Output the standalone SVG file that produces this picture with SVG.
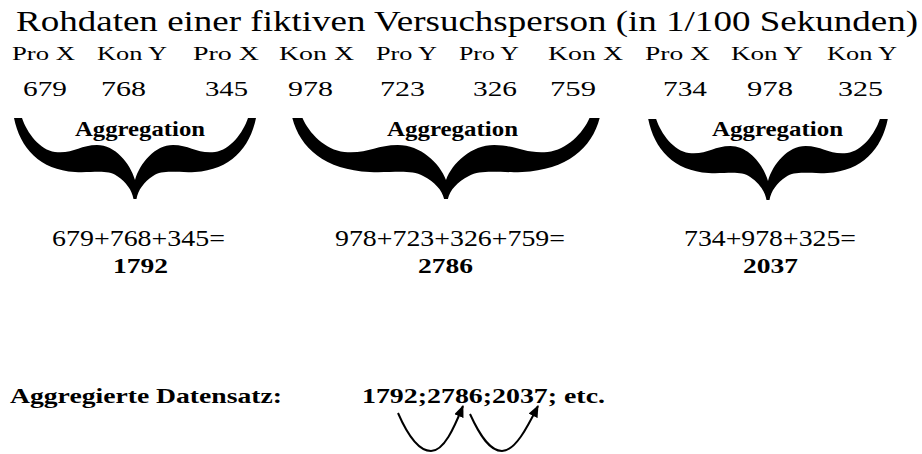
<svg xmlns="http://www.w3.org/2000/svg" xmlns:xlink="http://www.w3.org/1999/xlink" width="922" height="454" viewBox="0 0 922 454">
  <style>
    text { font-family: "Liberation Serif", "Times New Roman", Times, serif; fill: #000; }
    .title { font-size: 28.5px; }
    .lbl { font-size: 19px; }
    .num { font-size: 22px; }
    .agg { font-size: 21px; font-weight: bold; }
    .eq { font-size: 23.5px; }
    .sum { font-size: 21.5px; font-weight: bold; }
    .foot { font-size: 22px; font-weight: bold; }
    .arc { fill: none; stroke: #000; stroke-width: 2; marker-end: url(#ah); }
  </style>
  <defs>
    <!-- curly underbrace, centred on x=0, tips at y=0, point at y=81 -->
    <path id="brace" d="M -121,0 C -115,30 -95,52 -60,54 C -42,55 -28,51 -18,58 C -9,64 -3,72 -1.5,81 L 1.5,81 C 3,72 9,64 18,58 C 28,51 42,55 60,54 C 95,52 115,30 121,0 L 113,0 C 108,15 95,32 80,34 C 62,36 55,27 38,27 C 20,27 5,45 0,62 C -5,45 -20,27 -38,27 C -55,27 -62,36 -80,34 C -95,32 -108,15 -113,0 Z" fill="#000"/>
    <marker id="ah" viewBox="0 0 12 10" refX="11" refY="5" markerWidth="12" markerHeight="10" markerUnits="userSpaceOnUse" orient="auto">
      <path d="M0,0 L12,5 L0,10 Z" fill="#000"/>
    </marker>
  </defs>

  <rect width="922" height="454" fill="#fff"/>

  <g id="title">
    <text class="title" x="16" y="31" textLength="902" lengthAdjust="spacingAndGlyphs">Rohdaten einer fiktiven Versuchsperson (in 1/100 Sekunden)</text>
  </g>

  <g id="conditions">
    <text class="lbl" x="12" y="60" textLength="63" lengthAdjust="spacingAndGlyphs">Pro X</text>
    <text class="lbl" x="97" y="60" textLength="70" lengthAdjust="spacingAndGlyphs">Kon Y</text>
    <text class="lbl" x="193" y="60" textLength="66" lengthAdjust="spacingAndGlyphs">Pro X</text>
    <text class="lbl" x="279" y="60" textLength="75" lengthAdjust="spacingAndGlyphs">Kon X</text>
    <text class="lbl" x="376" y="60" textLength="61" lengthAdjust="spacingAndGlyphs">Pro Y</text>
    <text class="lbl" x="459" y="60" textLength="60" lengthAdjust="spacingAndGlyphs">Pro Y</text>
    <text class="lbl" x="548" y="60" textLength="75" lengthAdjust="spacingAndGlyphs">Kon X</text>
    <text class="lbl" x="645" y="60" textLength="65" lengthAdjust="spacingAndGlyphs">Pro X</text>
    <text class="lbl" x="731" y="60" textLength="72" lengthAdjust="spacingAndGlyphs">Kon Y</text>
    <text class="lbl" x="827" y="60" textLength="70" lengthAdjust="spacingAndGlyphs">Kon Y</text>
  </g>

  <g id="raw-values">
    <text class="num" x="23" y="96" textLength="44" lengthAdjust="spacingAndGlyphs">679</text>
    <text class="num" x="101" y="96" textLength="45" lengthAdjust="spacingAndGlyphs">768</text>
    <text class="num" x="205" y="96" textLength="43" lengthAdjust="spacingAndGlyphs">345</text>
    <text class="num" x="288" y="96" textLength="45" lengthAdjust="spacingAndGlyphs">978</text>
    <text class="num" x="380" y="96" textLength="45" lengthAdjust="spacingAndGlyphs">723</text>
    <text class="num" x="473" y="96" textLength="44" lengthAdjust="spacingAndGlyphs">326</text>
    <text class="num" x="550" y="96" textLength="46" lengthAdjust="spacingAndGlyphs">759</text>
    <text class="num" x="663" y="96" textLength="44" lengthAdjust="spacingAndGlyphs">734</text>
    <text class="num" x="747" y="96" textLength="46" lengthAdjust="spacingAndGlyphs">978</text>
    <text class="num" x="838" y="96" textLength="45" lengthAdjust="spacingAndGlyphs">325</text>
  </g>

  <g id="aggregation-1">
    <use xlink:href="#brace" transform="translate(135,118)"/>
    <text class="agg" x="75" y="136" textLength="130" lengthAdjust="spacingAndGlyphs">Aggregation</text>
    <text class="eq" x="52" y="246" textLength="173" lengthAdjust="spacingAndGlyphs">679+768+345=</text>
    <text class="sum" x="113" y="273" textLength="55" lengthAdjust="spacingAndGlyphs">1792</text>
  </g>

  <g id="aggregation-2">
    <use xlink:href="#brace" transform="translate(446,118) scale(1.27,1)"/>
    <text class="agg" x="387" y="136" textLength="131" lengthAdjust="spacingAndGlyphs">Aggregation</text>
    <text class="eq" x="335" y="246" textLength="230" lengthAdjust="spacingAndGlyphs">978+723+326+759=</text>
    <text class="sum" x="418" y="273" textLength="55" lengthAdjust="spacingAndGlyphs">2786</text>
  </g>

  <g id="aggregation-3">
    <use xlink:href="#brace" transform="translate(768,119) scale(0.99,1)"/>
    <text class="agg" x="712" y="136" textLength="131" lengthAdjust="spacingAndGlyphs">Aggregation</text>
    <text class="eq" x="684" y="246" textLength="172" lengthAdjust="spacingAndGlyphs">734+978+325=</text>
    <text class="sum" x="743" y="273" textLength="55" lengthAdjust="spacingAndGlyphs">2037</text>
  </g>

  <g id="aggregated-series">
    <text class="foot" x="10" y="403" textLength="272" lengthAdjust="spacingAndGlyphs">Aggregierte Datensatz:</text>
    <text class="foot" x="362" y="403" textLength="243" lengthAdjust="spacingAndGlyphs">1792;2786;2037; etc.</text>
  </g>

  <g id="connectors">
    <path class="arc" d="M 398,413 C 408,436 419,451 431,451 C 444,451 454,428 463,406"/>
    <path class="arc" d="M 470,414 C 480,436 490,451 502,451 C 515,451 527,428 538,406"/>
  </g>
</svg>
